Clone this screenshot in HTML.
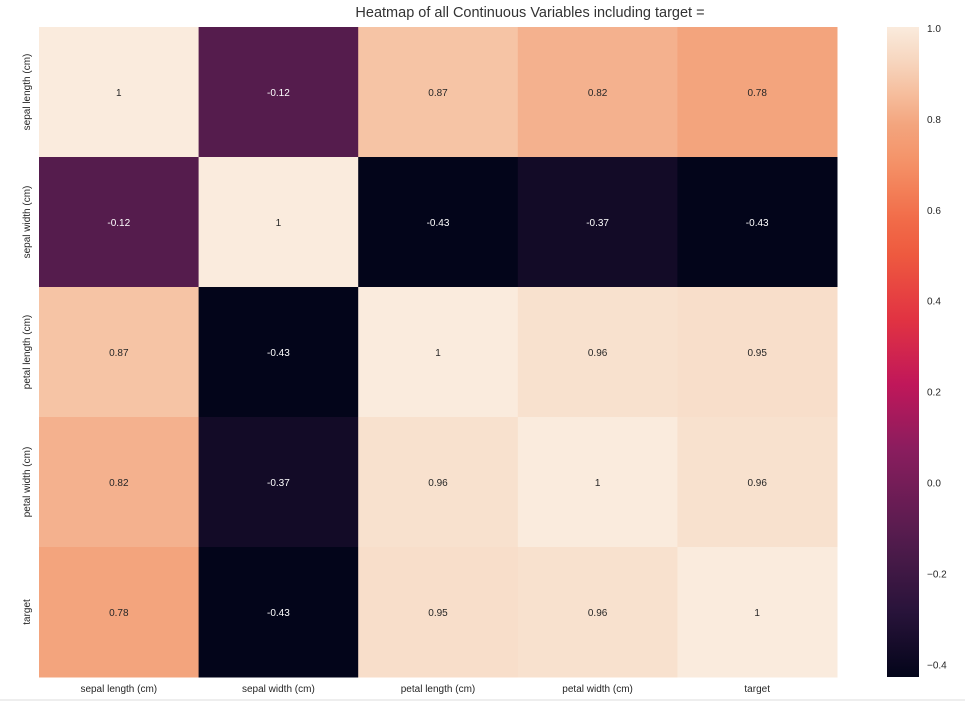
<!DOCTYPE html>
<html><head><meta charset="utf-8"><style>
body{margin:0;background:#fff;font-family:"Liberation Sans",sans-serif;}
svg text{font-family:"Liberation Sans",sans-serif;}
</style></head><body>
<svg id="chart" width="965" height="704">
<defs><linearGradient id="cb" x1="0" y1="1" x2="0" y2="0"></linearGradient></defs>
<text x="530" y="17" text-anchor="middle" font-size="14.5" fill="#333">Heatmap of all Continuous Variables including target =</text>
<line x1="0" y1="700" x2="965" y2="700" stroke="#ddd"/>
</svg>
<script>
const labels=["sepal length (cm)","sepal width (cm)","petal length (cm)","petal width (cm)","target"];
const row0=[1,-0.12,0.87,0.82,0.78];
const row1=[-0.12,1,-0.43,-0.37,-0.43];
const row2=[0.87,-0.43,1,0.96,0.95];
const row3=[0.82,-0.37,0.96,1,0.96];
const row4=[0.78,-0.43,0.95,0.96,1];
const cbTicks=[1.0,0.8,0.6,0.4,0.2,0.0,-0.2,-0.4];
const cbTickLabels=["1.0","0.8","0.6","0.4","0.2","0.0","\u22120.2","\u22120.4"];
const matrix=[row0,row1,row2,row3,row4];
const stops=[[0,"#03051A"],[0.1,"#28133A"],[0.22,"#561C4E"],[0.35,"#8A1D5E"],[0.45,"#C0175A"],[0.55,"#E13342"],[0.65,"#EE5A3F"],[0.72,"#F2714C"],[0.78,"#F48E64"],[0.85,"#F3A57E"],[0.91,"#F6C4A6"],[0.97,"#F8E0CD"],[1,"#FAEBDD"]];
const NS="http://www.w3.org/2000/svg";
const svg=document.getElementById('chart');
const X0=39,X1=837,Y0=27,Y1=677;
const all=matrix.flat();const vmin=Math.min(...all),vmax=Math.max(...all);
const cw=(X1-X0)/labels.length,ch=(Y1-Y0)/labels.length;
function hex(h){return [1,3,5].map(i=>parseInt(h.substr(i,2),16));}
function cmap(t){t=Math.max(0,Math.min(1,t));for(let i=1;i<stops.length;i++){if(t<=stops[i][0]){const a=stops[i-1],b=stops[i];const f=(t-a[0])/(b[0]-a[0]);const ca=hex(a[1]),cb=hex(b[1]);return "rgb("+ca.map((v,k)=>Math.round(v+(cb[k]-v)*f)).join(",")+")";}}return stops[stops.length-1][1];}
function norm(v){return (v-vmin)/(vmax-vmin);}
function mk(tag,attrs){const e=document.createElementNS(NS,tag);for(const k in attrs)e.setAttribute(k,attrs[k]);svg.appendChild(e);return e;}
matrix.forEach((row,r)=>row.forEach((v,c)=>{
 const rect=mk('rect',{x:X0+c*cw,y:Y0+r*ch,width:cw+0.5,height:ch+0.5,fill:cmap(norm(v))});
 
 
 const t=mk('text',{x:X0+(c+0.5)*cw,y:Y0+(r+0.5)*ch+4,'text-anchor':'middle','font-size':'10',fill:norm(v)<0.5?'#fff':'#262626'});
 t.textContent=String(v);
 
 
}));
labels.forEach((l,i)=>{
 const t=mk('text',{x:X0+(i+0.5)*cw,y:692,'text-anchor':'middle','font-size':'10',fill:'#262626'});
 t.textContent=l;
 
 
 const yy=Y0+(i+0.5)*ch;
 const u=mk('text',{x:0,y:0,'text-anchor':'middle','font-size':'10',fill:'#262626',transform:'translate(30,'+yy+') rotate(-90)'});
 u.textContent=l;
 
 
});
const g=document.getElementById('cb');
for(let i=0;i<=20;i++){const s=document.createElementNS(NS,'stop');s.setAttribute('offset',i/20);s.setAttribute('stop-color',cmap(i/20));g.appendChild(s);}
const cbr=mk('rect',{x:887,y:Y0,width:32,height:Y1-Y0,fill:'url(#cb)'});


cbTicks.forEach((v,i)=>{
 const y=Y1-norm(v)*(Y1-Y0);
 const t=mk('text',{x:927,y:y+5,'font-size':'10',fill:'#262626'});
 t.textContent=cbTickLabels[i];
 
 
});
</script>
</body></html>
